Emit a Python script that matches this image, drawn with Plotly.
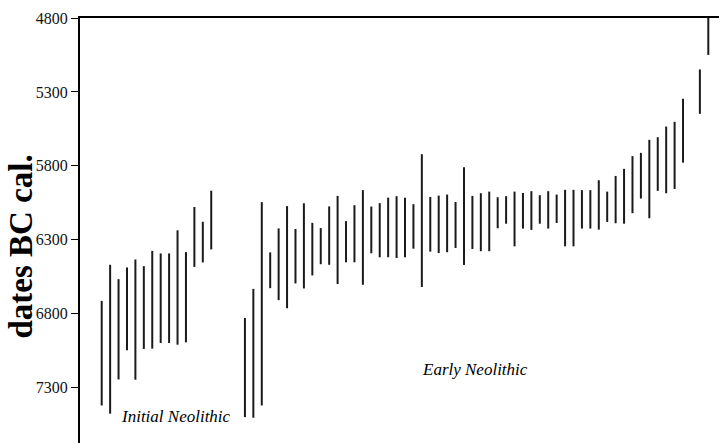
import plotly.graph_objects as go

# Sample sequence numbers (position along the horizontal ordering)
initial_idx = list(range(1, 15))
initial_young = [6713, 6469, 6566, 6487, 6433, 6478, 6375, 6392, 6392, 6236, 6383, 6078, 6178, 5968]
initial_old = [7420, 7476, 7244, 7047, 7246, 7038, 7036, 6998, 6998, 7009, 6993, 6483, 6453, 6365]

early_idx = list(range(18, 71)) + [72, 73]
early_young = [6828, 6632, 6045, 6385, 6223, 6072, 6227, 6053, 6185, 6221, 6074,
               6003, 6174, 6066, 5964, 6075, 6052, 6015, 6005, 6015, 6059, 5721,
               6010, 6001, 5994, 6044, 5809, 6003, 5985, 5974, 6012, 6005, 5974,
               5983, 5971, 5998, 5971, 5994, 5962, 5962, 5964, 5964, 5897, 5974,
               5868, 5820, 5734, 5712, 5624, 5606, 5534, 5502, 5346, 5148, 4800]
early_old = [7499, 7503, 7420, 6627, 6708, 6763, 6595, 6629, 6541, 6465, 6469,
             6599, 6452, 6452, 6604, 6391, 6418, 6418, 6423, 6418, 6360, 6619,
             6380, 6389, 6384, 6355, 6470, 6362, 6377, 6377, 6222, 6191, 6344,
             6224, 6233, 6191, 6224, 6186, 6344, 6344, 6224, 6224, 6231, 6179,
             6188, 6191, 6120, 6021, 6154, 5969, 5985, 5956, 5778, 5448, 5050]

y_ticks = [4800, 5300, 5800, 6300, 6800, 7300]
y_title = "dates BC cal."
label_initial = "Initial Neolithic"
label_early = "Early Neolithic"


def segs(idx, young, old):
    xs, ys = [], []
    for i, a, b in zip(idx, young, old):
        xs += [i, i, None]
        ys += [a, b, None]
    return xs, ys


fig = go.Figure()
for idx, yo, ol in [(initial_idx, initial_young, initial_old),
                    (early_idx, early_young, early_old)]:
    xs, ys = segs(idx, yo, ol)
    fig.add_trace(go.Scatter(x=xs, y=ys, mode="lines",
                             line=dict(color="#1a1a1a", width=2),
                             hoverinfo="skip", showlegend=False))

serif = "Liberation Serif, Times New Roman, serif"

fig.update_layout(
    width=719, height=443,
    margin=dict(l=80, r=0, t=18, b=0),
    paper_bgcolor="white", plot_bgcolor="white",
    showlegend=False,
    xaxis=dict(range=[-1.576, 74.27], side="top", showline=True,
               linecolor="black", linewidth=2, showgrid=False, zeroline=False,
               showticklabels=False, ticks=""),
    yaxis=dict(range=[7674, 4800], showline=True, linecolor="black",
               linewidth=2, showgrid=False, zeroline=False,
               tickvals=y_ticks, ticktext=[str(v) for v in y_ticks],
               ticks="outside", ticklen=7, tickwidth=1, tickcolor="black",
               tickfont=dict(family=serif, size=16, color="#111")),
    annotations=[
        dict(text="<b>" + y_title + "</b>", xref="paper", yref="paper",
             x=-0.0916, y=0.4635, xanchor="center", yanchor="middle",
             textangle=-90, showarrow=False,
             font=dict(family=serif, size=33, color="black")),
        dict(text="<i>" + label_initial + "</i>", x=9.82, y=7492,
             xanchor="center", yanchor="middle", showarrow=False,
             font=dict(family=serif, size=17, color="black")),
        dict(text="<i>" + label_early + "</i>", x=45.27, y=7176,
             xanchor="center", yanchor="middle", showarrow=False,
             font=dict(family=serif, size=17, color="black")),
    ],
)

fig.write_html("out.html",
               config={"displayModeBar": False, "staticPlot": True},
               post_script="document.body.style.margin='0';"
                           "document.body.style.overflow='hidden';")
